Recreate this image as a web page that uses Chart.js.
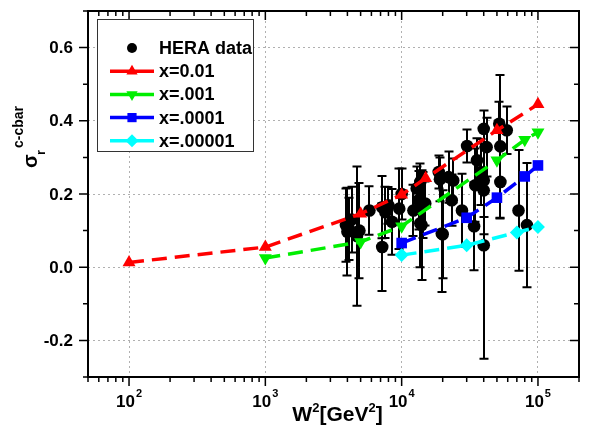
<!DOCTYPE html>
<html><head><meta charset="utf-8">
<script src="https://cdn.jsdelivr.net/npm/chart.js@4.4.1/dist/chart.umd.min.js"></script>
<style>html,body{margin:0;padding:0;background:#fff}#wrap{width:592px;height:432px}</style>
</head><body><div id="wrap"><canvas id="c"></canvas></div>
<script>
/* ---- data ---- */
const heraW   = [3900,4000,4100,4300,4700,4900,5800,7200,7600,8000,8500,7200,9600,10000,12200,12900,13300,13700,13700,14000,14300,14900,18700,19700,19100,20000,22100,23300,23900,27700,30200,34700,35700,34000,38000,40000,40000,40000,40000,42000,53000,52000,53000,59000,72000,83000];
const heraY   = [0.115,0.097,0.105,0.13,0.085,0.10,0.155,0.164,0.15,0.169,0.124,0.055,0.16,0.2,0.155,0.215,0.183,0.233,0.12,0.115,0.17,0.174,0.26,0.092,0.24,0.09,0.246,0.183,0.237,0.155,0.331,0.224,0.292,0.112,0.26,0.237,0.21,0.06,0.378,0.328,0.33,0.392,0.233,0.374,0.155,0.115];
const heraErr = [0.10,0.12,0.085,0.09,0.19,0.13,0.066,0.085,0.07,0.05,0.09,0.12,0.11,0.07,0.07,0.06,0.08,0.05,0.12,0.15,0.09,0.06,0.045,0.16,0.06,0.12,0.07,0.07,0.06,0.10,0.045,0.10,0.06,0.12,0.09,0.10,0.12,0.31,0.05,0.08,0.195,0.06,0.10,0.065,0.165,0.17];

const w01 = [100,1000,5000,10000,15000,50000,100000];
const s01 = [0.013,0.055,0.146,0.198,0.243,0.374,0.445];
const w001 = [1000,5000,10000,50000,80000,100000];
const s001 = [0.025,0.069,0.112,0.292,0.348,0.369];
const w0001 = [10000,30000,50000,80000,100000];
const s0001 = [0.066,0.135,0.19,0.248,0.278];
const w00001 = [10000,30000,70000,100000];
const s00001 = [0.033,0.06,0.095,0.11];

const xTicks = [100,1000,10000,100000];
const yTicks = [-0.2,0,0.2,0.4,0.6];
const xMin=50, xMax=200000, yMin=-0.3, yMax=0.7;

const FONT="'Liberation Sans', Arial, sans-serif";
const pts=(w,s)=>w.map((v,i)=>({x:v,y:s[i]}));

function model(label,w,s,color,style,rot,r){
  return {label,data:pts(w,s),borderColor:color,backgroundColor:color,borderWidth:3.5,
    borderDash:[15,8],pointStyle:style,rotation:rot,pointRadius:r,pointBorderWidth:0,order:1};
}

const datasets=[
  {label:'HERA data',data:pts(heraW,heraY),showLine:false,pointStyle:'circle',pointRadius:6.3,
   backgroundColor:'#000',borderColor:'#000',pointBorderWidth:0,order:5},
  model('x=0.01',w01,s01,'#ff0000','triangle',0,7.5),
  model('x=.001',w001,s001,'#00ee00','triangle',180,7.5),
  model('x=.0001',w0001,s0001,'#0000ff','rect',0,7.5),
  model('x=.00001',w00001,s00001,'#00ffff','rectRot',0,7)
];

/* error bars under the markers */
const errBars={id:'errBars',beforeDatasetsDraw(ch){
  const{ctx,scales:{x,y}}=ch;ctx.save();
  ctx.strokeStyle='#000';ctx.lineWidth=2;
  heraW.forEach((w,i)=>{
    const px=Math.round(x.getPixelForValue(w));
    const lo=y.getPixelForValue(heraY[i]-heraErr[i]);
    const hi=y.getPixelForValue(heraY[i]+heraErr[i]);
    ctx.beginPath();
    ctx.moveTo(px,lo);ctx.lineTo(px,hi);
    ctx.moveTo(px-4.5,lo);ctx.lineTo(px+4.5,lo);
    ctx.moveTo(px-4.5,hi);ctx.lineTo(px+4.5,hi);
    ctx.stroke();
  });
  ctx.restore();}};

/* frame, origin-style ticks, tick labels, titles, legend */
const deco={id:'deco',afterDraw(ch){
  const{ctx,chartArea:a,scales:{x,y}}=ch;ctx.save();
  ctx.strokeStyle='#000';ctx.lineWidth=2;
  ctx.strokeRect(a.left,a.top,a.right-a.left,a.bottom-a.top);
  ctx.lineWidth=1.5;ctx.beginPath();
  // x ticks: outward bottom, inward top
  for(let d=10;d<=100000;d*=10){for(let m=1;m<=9;m++){
    const v=m*d;if(v<xMin||v>xMax)continue;
    const px=x.getPixelForValue(v),L=m===1?9:5;
    ctx.moveTo(px,a.bottom);ctx.lineTo(px,a.bottom+L);
    ctx.moveTo(px,a.top);ctx.lineTo(px,a.top+L);
  }}
  // y ticks: outward left, inward right
  for(let k=-3;k<=7;k++){
    const py=y.getPixelForValue(k/10),L=(k%2===0)?9:5;
    ctx.moveTo(a.left,py);ctx.lineTo(a.left-L,py);
    ctx.moveTo(a.right,py);ctx.lineTo(a.right-L,py);
  }
  ctx.stroke();
  ctx.fillStyle='#000';
  // y tick labels
  ctx.font='bold 17px '+FONT;ctx.textAlign='right';ctx.textBaseline='middle';
  yTicks.forEach(v=>ctx.fillText(v.toFixed(1),73,y.getPixelForValue(v)+1));
  // x tick labels 10^n
  ctx.textBaseline='alphabetic';ctx.textAlign='left';
  xTicks.forEach(v=>{
    const px=x.getPixelForValue(v),ex=String(Math.round(Math.log10(v)));
    ctx.font='bold 17px '+FONT;const wb=ctx.measureText('10').width;
    ctx.font='bold 11px '+FONT;const we=ctx.measureText(ex).width;
    const x0=px-(wb+we+1)/2;
    ctx.font='bold 17px '+FONT;ctx.fillText('10',x0,407);
    ctx.font='bold 11px '+FONT;ctx.fillText(ex,x0+wb+1,397);
  });
  // x title W^2[GeV^2]
  const parts=[['W',21,0],['2',13,-9],['[GeV',21,0],['2',13,-9],[']',21,0]];
  let tw=0;parts.forEach(p=>{ctx.font='bold '+p[1]+'px '+FONT;tw+=ctx.measureText(p[0]).width;});
  let cx=(a.left+a.right)/2+4-tw/2;
  parts.forEach(p=>{ctx.font='bold '+p[1]+'px '+FONT;ctx.fillText(p[0],cx,421+p[2]);cx+=ctx.measureText(p[0]).width;});
  // y title sigma_r^{c-cbar}
  ctx.save();ctx.translate(37,168);ctx.rotate(-Math.PI/2);
  ctx.font='bold 20px '+FONT;ctx.fillText('σ',0,0);
  ctx.font='bold 13px '+FONT;ctx.fillText('r',13,8);
  ctx.font='bold 14px '+FONT;ctx.fillText('c-cbar',20,-14);
  ctx.restore();
  // legend
  const bx=97,by=19,bw=156,bh=132;
  ctx.fillStyle='#fff';ctx.fillRect(bx,by,bw,bh);
  ctx.strokeStyle='#333';ctx.lineWidth=1;ctx.strokeRect(bx+.5,by+.5,bw,bh);
  ch.data.datasets.forEach((ds,i)=>{
    const ly=48+i*23.2;
    if(ds.showLine!==false){
      ctx.strokeStyle=ds.borderColor;ctx.lineWidth=3.5;ctx.setLineDash([]);
      ctx.beginPath();ctx.moveTo(110,ly);ctx.lineTo(154,ly);ctx.stroke();
    }
    ctx.fillStyle=ds.backgroundColor;ctx.strokeStyle=ds.backgroundColor;
    Chart.helpers.drawPoint(ctx,{pointStyle:ds.pointStyle,radius:ds.pointStyle==='circle'?5:6.5,rotation:ds.rotation||0,borderWidth:0},132,ly);
    ctx.fillStyle='#000';ctx.font='bold 18px '+FONT;ctx.textBaseline='middle';
    ctx.fillText(ds.label,159,ly+1);ctx.textBaseline='alphabetic';
  });
  ctx.restore();}};

new Chart(document.getElementById('c'),{type:'line',
  data:{datasets},
  options:{responsive:true,maintainAspectRatio:false,animation:false,
    layout:{padding:{top:11,right:13,left:0,bottom:0}},
    plugins:{legend:{display:false},tooltip:{enabled:false}},
    scales:{
      x:{type:'logarithmic',min:xMin,max:xMax,
        afterBuildTicks:s=>{s.ticks=xTicks.map(v=>({value:v}));},
        afterFit:s=>{s.height=55;},
        ticks:{display:false},
        border:{display:false,dash:[2,3]},
        grid:{drawTicks:false,color:'#b0b0b0',lineWidth:1}},
      y:{type:'linear',min:yMin,max:yMax,
        afterBuildTicks:s=>{s.ticks=yTicks.map(v=>({value:v}));},
        afterFit:s=>{s.width=88;},
        ticks:{display:false},
        border:{display:false,dash:[2,3]},
        grid:{drawTicks:false,color:'#b0b0b0',lineWidth:1}}
    }},
  plugins:[errBars,deco]
});
</script></body></html>
